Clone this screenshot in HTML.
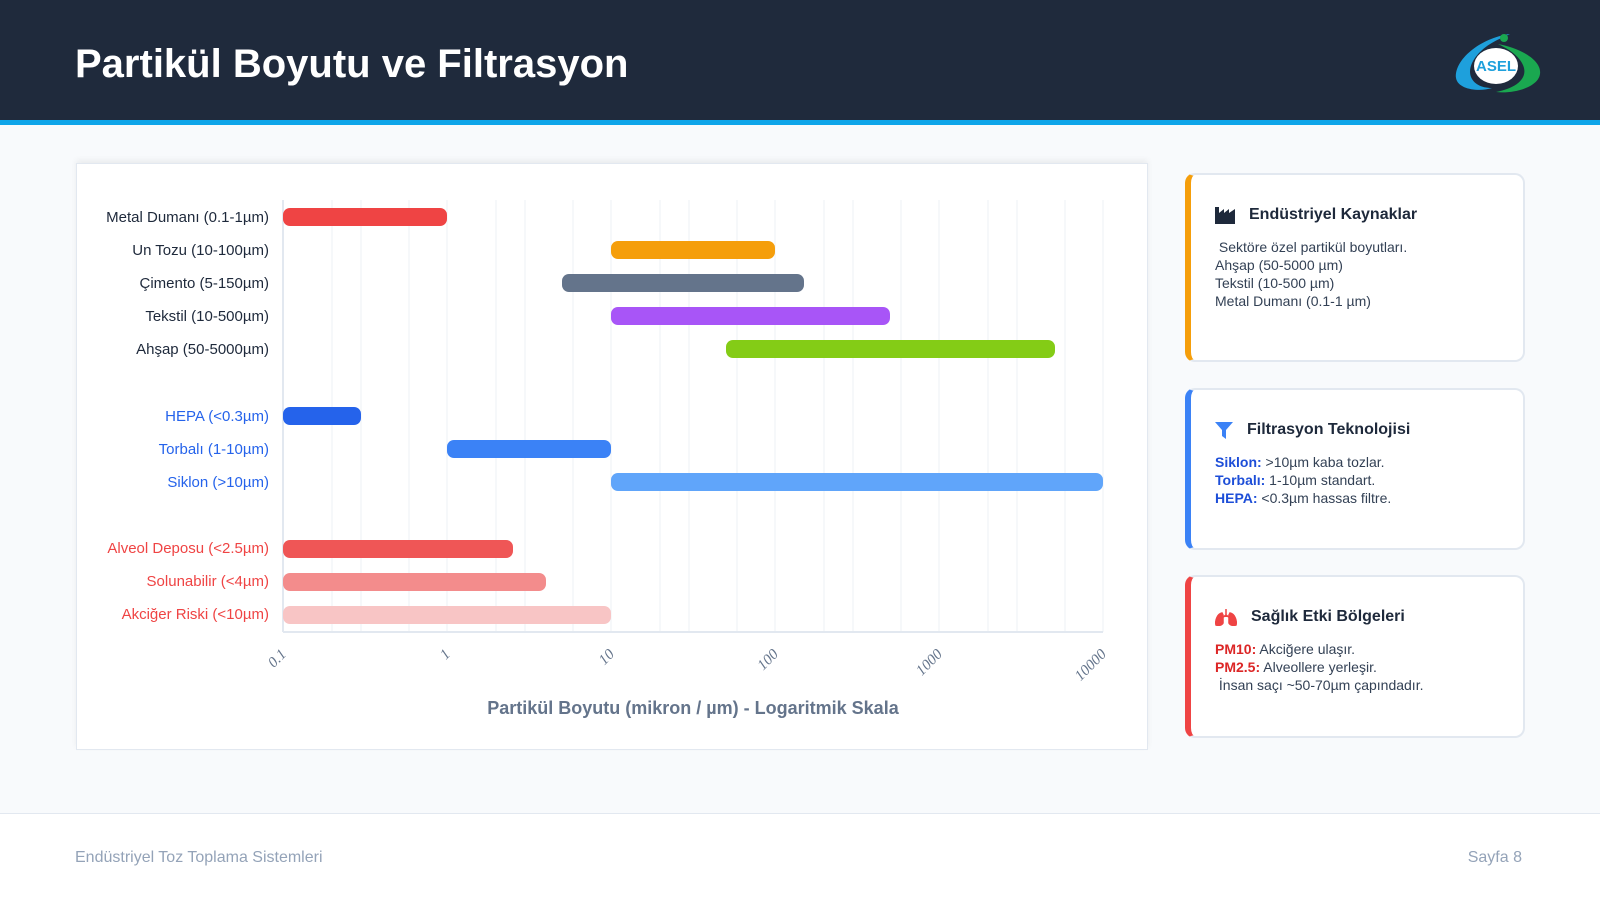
<!DOCTYPE html>
<html><head><meta charset="utf-8"><style>
*{margin:0;padding:0;box-sizing:border-box}
body{width:1600px;height:900px;background:#f8fafc;font-family:"Liberation Sans",sans-serif;position:relative;overflow:hidden}
.hdr{position:absolute;left:0;top:0;width:1600px;background:#1f2a3c;border-bottom:5px solid #0ea5e9;height:125px}
.hdr h1{position:absolute;left:75px;top:42px;color:#fff;font-size:40px;font-weight:bold}
.chart{position:absolute;left:76px;top:163px;width:1072px;height:587px;background:#fff;border:1px solid #e2e8f0;box-shadow:0 -3px 6px rgba(0,0,0,0.06)}
.card{position:absolute;left:1185px;width:340px;background:#fff;border:2px solid #e2e8f0;border-left:6px solid;border-radius:10px;padding:31px 0 0 24px}
.card h3{font-size:16px;color:#1e293b;font-weight:bold;display:flex;align-items:center;gap:14px;margin-bottom:14px}
.card p{font-size:14px;color:#334155;line-height:18px}
.foot{position:absolute;left:0;top:813px;width:1600px;height:87px;background:#fff;border-top:1px solid #e2e8f0}
.foot span{position:absolute;top:35px;font-size:16px;color:#94a3b8}
</style></head><body>
<div class="hdr"><h1>Partikül Boyutu ve Filtrasyon</h1>
<svg style="position:absolute;left:1450px;top:30px" width="95" height="66" viewBox="0 0 95 66">
<path d="M60 4 C30 8 4 30 6 48 C8 60 30 62 42 58 C20 58 12 40 30 22 C40 12 52 8 60 4Z" fill="#1ea0dc"/>
<path d="M48 14 C70 18 92 30 90 44 C88 58 62 64 46 62 C68 58 82 46 70 30 C64 22 56 18 48 14Z" fill="#1aa850"/>
<ellipse cx="46" cy="36" rx="22" ry="18" fill="#fff"/>
<text x="46" y="41" text-anchor="middle" font-size="15" font-weight="bold" fill="#1ea0dc" font-family="Liberation Sans">ASEL</text>
<circle cx="54" cy="8" r="4" fill="#1aa850"/></svg></div>

<div class="chart"></div>
<svg style="position:absolute;left:0;top:0" width="1600" height="900">
<g stroke="#eef1f5" stroke-width="1">
<line x1="361" y1="200" x2="361" y2="632"/><line x1="332" y1="200" x2="332" y2="632"/><line x1="409" y1="200" x2="409" y2="632"/><line x1="447" y1="200" x2="447" y2="632"/>
<line x1="525" y1="200" x2="525" y2="632"/><line x1="496" y1="200" x2="496" y2="632"/><line x1="573" y1="200" x2="573" y2="632"/><line x1="611" y1="200" x2="611" y2="632"/>
<line x1="689" y1="200" x2="689" y2="632"/><line x1="660" y1="200" x2="660" y2="632"/><line x1="737" y1="200" x2="737" y2="632"/><line x1="775" y1="200" x2="775" y2="632"/>
<line x1="853" y1="200" x2="853" y2="632"/><line x1="824" y1="200" x2="824" y2="632"/><line x1="901" y1="200" x2="901" y2="632"/><line x1="939" y1="200" x2="939" y2="632"/>
<line x1="1017" y1="200" x2="1017" y2="632"/><line x1="988" y1="200" x2="988" y2="632"/><line x1="1065" y1="200" x2="1065" y2="632"/><line x1="1103" y1="200" x2="1103" y2="632"/>
</g>
<line x1="283" y1="200" x2="283" y2="632" stroke="#e2e8f0" stroke-width="2"/>
<line x1="283" y1="632" x2="1103" y2="632" stroke="#e2e8f0" stroke-width="2"/>
<g font-size="15" text-anchor="end" fill="#1e293b">
<text x="269" y="222">Metal Dumanı (0.1-1µm)</text>
<text x="269" y="255">Un Tozu (10-100µm)</text>
<text x="269" y="288">Çimento (5-150µm)</text>
<text x="269" y="321">Tekstil (10-500µm)</text>
<text x="269" y="354">Ahşap (50-5000µm)</text>
<g fill="#2563eb"><text x="269" y="421">HEPA (&lt;0.3µm)</text>
<text x="269" y="454">Torbalı (1-10µm)</text>
<text x="269" y="487">Siklon (&gt;10µm)</text></g>
<g fill="#ef4444"><text x="269" y="553">Alveol Deposu (&lt;2.5µm)</text>
<text x="269" y="586">Solunabilir (&lt;4µm)</text>
<text x="269" y="619">Akciğer Riski (&lt;10µm)</text></g>
</g>
<g>
<rect x="283" y="208" width="164" height="18" rx="7" fill="#ef4444"/>
<rect x="611" y="241" width="164" height="18" rx="7" fill="#f59e0b"/>
<rect x="562" y="274" width="242" height="18" rx="7" fill="#64748b"/>
<rect x="611" y="307" width="279" height="18" rx="7" fill="#a855f7"/>
<rect x="726" y="340" width="329" height="18" rx="7" fill="#84cc16"/>
<rect x="283" y="407" width="78" height="18" rx="7" fill="#2563eb"/>
<rect x="447" y="440" width="164" height="18" rx="7" fill="#3b82f6"/>
<rect x="611" y="473" width="492" height="18" rx="7" fill="#60a5fa"/>
<rect x="283" y="540" width="230" height="18" rx="7" fill="#ef5656"/>
<rect x="283" y="573" width="263" height="18" rx="7" fill="#f38c8c"/>
<rect x="283" y="606" width="328" height="18" rx="7" fill="#f8c5c5"/>
</g>
<g font-size="15" fill="#64748b" font-family="Liberation Serif" font-style="italic">
<text transform="translate(287,655) rotate(-45)" text-anchor="end">0.1</text>
<text transform="translate(451,655) rotate(-45)" text-anchor="end">1</text>
<text transform="translate(615,655) rotate(-45)" text-anchor="end">10</text>
<text transform="translate(779,655) rotate(-45)" text-anchor="end">100</text>
<text transform="translate(943,655) rotate(-45)" text-anchor="end">1000</text>
<text transform="translate(1107,655) rotate(-45)" text-anchor="end">10000</text>
</g>
<text x="693" y="714" text-anchor="middle" font-size="18" font-weight="bold" fill="#64748b">Partikül Boyutu (mikron / µm) - Logaritmik Skala</text>
</svg>

<div class="card" style="top:173px;height:189px;border-left-color:#f59e0b">
<h3><svg width="20" height="17" viewBox="0 0 20 17"><path d="M0 17V0h4v6l5-4v4l5-4v4l6-4v15z" fill="#1e293b"/></svg>Endüstriyel Kaynaklar</h3>
<p>&nbsp;Sektöre özel partikül boyutları.<br>Ahşap (50-5000 µm)<br>Tekstil (10-500 µm)<br>Metal Dumanı (0.1-1 µm)</p></div>
<div class="card" style="top:388px;height:162px;border-left-color:#3b82f6">
<h3><svg width="18" height="17" viewBox="0 0 18 17"><path d="M0 0h18l-7 8v9l-4-3V8z" fill="#3b82f6"/></svg>Filtrasyon Teknolojisi</h3>
<p><b style="color:#1d4ed8">Siklon:</b> &gt;10µm kaba tozlar.<br><b style="color:#1d4ed8">Torbalı:</b> 1-10µm standart.<br><b style="color:#1d4ed8">HEPA:</b> &lt;0.3µm hassas filtre.</p></div>
<div class="card" style="top:575px;height:163px;border-left-color:#ef4444">
<h3><svg width="22" height="17" viewBox="0 0 22 17"><path d="M11 0v8M11 6l-4 3M11 6l4 3M7 4C2 5 0 12 1 16c3 1 6 0 7-2V6zM15 4c5 1 7 8 6 12-3 1-6 0-7-2V6z" fill="#ef4444" stroke="#ef4444" stroke-width="1.5"/></svg>Sağlık Etki Bölgeleri</h3>
<p><b style="color:#dc2626">PM10:</b> Akciğere ulaşır.<br><b style="color:#dc2626">PM2.5:</b> Alveollere yerleşir.<br>&nbsp;İnsan saçı ~50-70µm çapındadır.</p></div>

<div class="foot"><span style="left:75px">Endüstriyel Toz Toplama Sistemleri</span><span style="right:78px">Sayfa 8</span></div>
</body></html>
